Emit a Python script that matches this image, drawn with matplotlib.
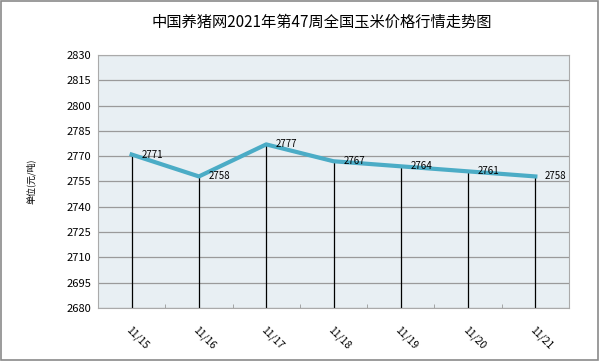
import numpy as np
import matplotlib.pyplot as plt
from matplotlib.patches import Rectangle

plt.rcParams['font.family'] = ['Noto Sans CJK SC', 'DejaVu Sans']

dates = ['11/15', '11/16', '11/17', '11/18', '11/19', '11/20', '11/21']
prices = [2771, 2758, 2777, 2767, 2764, 2761, 2758]
yticks = [2680, 2695, 2710, 2725, 2740, 2755, 2770, 2785, 2800, 2815, 2830]

fig = plt.figure(figsize=(6, 3.61), dpi=100)
ax = fig.add_axes([98/600, 1-308/361, 471/600, 253/361])
ax.set_facecolor('#E8EFF3')

x = np.arange(len(dates))
# drop lines
ax.vlines(x, yticks[0], prices, color='black', lw=0.9, zorder=2)
ax.plot(x, prices, color='#4BACC6', lw=3, zorder=3)
for xi, p in zip(x, prices):
    ax.annotate(str(p), (xi, p), xytext=(7, 0), textcoords='offset points',
                fontsize=7, va='center', ha='left', zorder=4)

ax.set_xlim(-0.5, 6.5)
ax.set_ylim(yticks[0], yticks[-1])
ax.set_yticks(yticks)
ax.set_yticklabels([str(t) for t in yticks], fontsize=8)
ax.yaxis.grid(True, color='#9a9a9a', lw=0.9)
ax.set_axisbelow(True)
ax.set_xticks(x)
ax.set_xticklabels(dates, rotation=-45, ha='left', va='top', fontsize=7.5,
                   rotation_mode='anchor')
ax.set_xticks(x[:-1] + 0.5, minor=True)
ax.tick_params(axis='x', length=0, pad=12)
ax.tick_params(axis='x', which='minor', direction='in', length=3, color='#999999')
ax.tick_params(axis='y', length=0, pad=5)
for s in ax.spines.values():
    s.set_color('#aaaaaa')
    s.set_linewidth(0.8)

ax.set_ylabel('单位(元/吨)', fontsize=6.5, labelpad=22)

fig.text(322/600, 1-22/361, '中国养猪网2021年第47周全国玉米价格行情走势图',
         ha='center', va='center', fontsize=11)

fig.patches.append(Rectangle((0.002, 0.003), 0.995, 0.993, transform=fig.transFigure,
                             fill=False, edgecolor='#8a8a8a', lw=1.2))

fig.savefig('out.png', dpi=100)
